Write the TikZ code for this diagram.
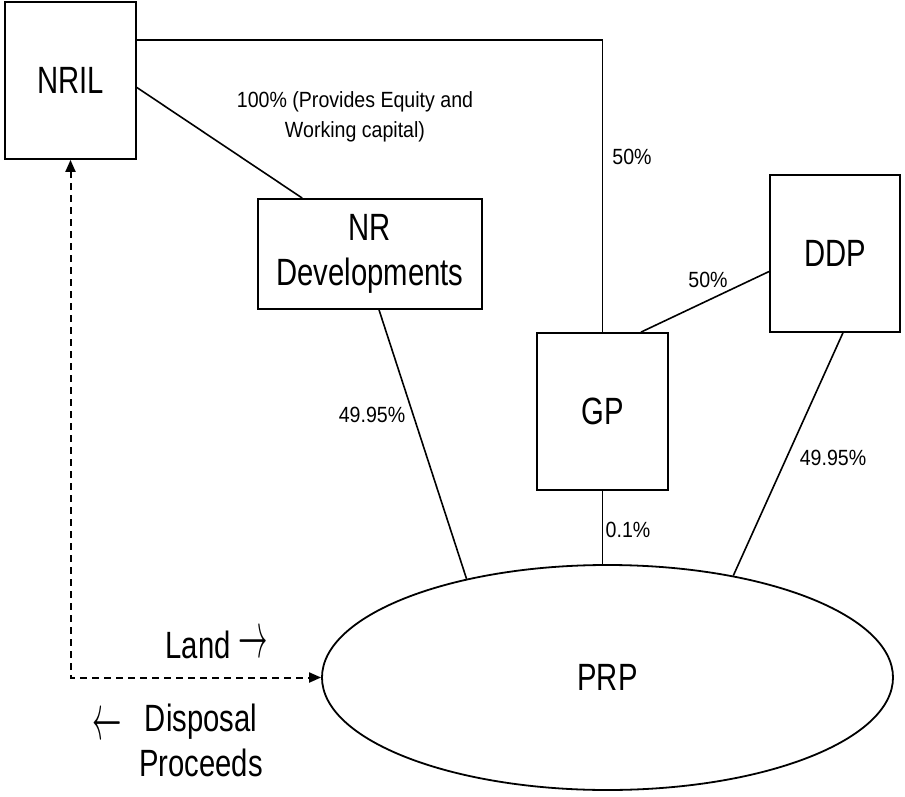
\documentclass[tikz,border=0pt]{standalone}
\usepackage{graphicx}
\usepackage{fontspec}
\setmainfont{Liberation Sans}[FakeStretch=0.89]
\newfontfamily\boxfont{Liberation Sans}[FakeStretch=0.77]
\newcommand{\toarrow}[1]{\raisebox{0.5pt}{\scalebox{0.85}[1.9]{$#1$}}}
\usetikzlibrary{arrows.meta,calc,shapes.geometric}
\begin{document}
\begin{tikzpicture}[x=0.5pt,y=-0.5pt,
	entity/.style={rectangle,draw,line width=0.9pt,inner sep=0,align=center,
		font=\boxfont\fontsize{19}{22.5}\selectfont},
	flowtext/.style={inner sep=0,align=center,font=\boxfont\fontsize{19}{22.5}\selectfont},
	pct/.style={inner sep=1,align=center,font=\fontsize{11}{15}\selectfont},
	link/.style={line width=0.8pt},
	flow/.style={line width=1pt,dash pattern=on 3.5pt off 2.5pt,
		{Triangle[length=6pt,width=5pt]}-{Triangle[length=6pt,width=5pt]}}]
\useasboundingbox (0,0) rectangle (905,797);
% companies
\node[entity,minimum width=65.5pt,minimum height=78.5pt] (nril) at (70.5,80.5) {NRIL};
\node[entity,minimum width=112pt,minimum height=55pt] (nrd) at (370,254) {NR\\Developments};
\node[entity,minimum width=65.5pt,minimum height=78.5pt] (gp) at (602.5,411.5) {GP};
\node[entity,minimum width=65pt,minimum height=78.5pt] (ddp) at (835,253.5) {DDP};
\node[entity,ellipse,minimum width=285.5pt,minimum height=112.5pt] (prp) at (607.5,677.5) {PRP};
% holdings
\coordinate (corner) at (602.5,40);
\draw[link] (nril.east |- corner) -- (corner) -- (gp.north);
\draw[link] ($(nril.east)+(0,7)$) -- ($(nrd.north west)!0.2!(nrd.north east)$);
\draw[link] ($(nrd.south west)!0.54!(nrd.south east)$) -- (prp.145);
\draw[link] (gp.south) -- (gp.south |- prp.north);
\draw[link] ($(gp.north west)!0.79!(gp.north east)$) -- ($(ddp.west)+(0,18)$);
\draw[link] ($(ddp.south west)!0.56!(ddp.south east)$) -- (prp.39);
\draw[flow] (nril.south) -- (nril.south |- prp.west) -- (prp.west);
% shares
\node[pct] (capital) at (355,117) {100\% (Provides Equity and\\Working capital)};
\node[pct] (gpshare) at (632,157) {50\%};
\node[pct] (ddpgp) at (708,280) {50\%};
\node[pct] (nrdshare) at (372,415) {49.95\%};
\node[pct] (gpprp) at (628,530) {0.1\%};
\node[pct] (ddpshare) at (833,458) {49.95\%};
% land and proceeds
\node[flowtext] (land) at (217,645) {Land \toarrow{\rightarrow}};
\node[flowtext] (proceeds) at (201,740) {Disposal\\Proceeds};
\node[flowtext] (back) at (107,728) {\toarrow{\leftarrow}};
\end{tikzpicture}
\end{document}
